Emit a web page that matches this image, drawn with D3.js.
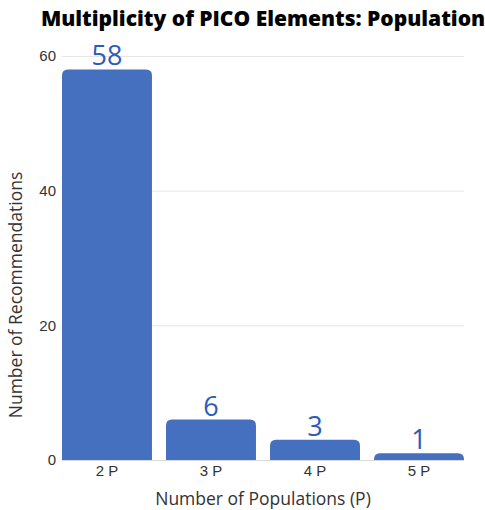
<!DOCTYPE html>
<html>
<head>
<meta charset="utf-8">
<script src="https://cdn.jsdelivr.net/npm/d3@7"></script>
<style>
  html, body { margin: 0; padding: 0; background: #fff; }
  svg { display: block; }
</style>
</head>
<body>
<svg id="chart" width="485" height="510"></svg>
<script>
// Number of recommendations per population count
const categories = ["2 P", "3 P", "4 P", "5 P"];
const counts = [58, 6, 3, 1];
const yTicks = [0, 20, 40, 60];

const svg = d3.select("#chart");
const W = 485, H = 510;
const margin = { top: 56, right: 21, bottom: 50, left: 62 };

const x = d3.scaleBand()
  .domain(categories)
  .range([margin.left, W - margin.right])
  .paddingInner(0.135)
  .paddingOuter(0);

const y = d3.scaleLinear()
  .domain([0, 60])
  .range([H - margin.bottom, margin.top]);

const font = "'Open Sans', sans-serif";
const tickFont = "'Liberation Sans', Arial, sans-serif";

// Horizontal gridlines
svg.append("g")
  .selectAll("line")
  .data(yTicks.filter(d => d > 0))
  .join("line")
  .attr("x1", margin.left)
  .attr("x2", W - margin.right)
  .attr("y1", d => y(d) + 0.5)
  .attr("y2", d => y(d) + 0.5)
  .attr("stroke", "#e6e6e6")
  .attr("stroke-width", 1);

// Bars with rounded top corners
const r = 6;
function barPath(d, i) {
  const x0 = x(categories[i]), x1 = x0 + x.bandwidth();
  const yb = y(0), yt = y(d);
  const rr = Math.min(r, (yb - yt));
  return `M${x0},${yb}V${yt + rr}Q${x0},${yt} ${x0 + rr},${yt}H${x1 - rr}Q${x1},${yt} ${x1},${yt + rr}V${yb}Z`;
}
svg.append("g")
  .selectAll("path")
  .data(counts)
  .join("path")
  .attr("d", (d, i) => barPath(d, i))
  .attr("fill", "#4470bf");

// Baseline
svg.append("line")
  .attr("x1", margin.left)
  .attr("x2", W - margin.right)
  .attr("y1", y(0) + 0.5)
  .attr("y2", y(0) + 0.5)
  .attr("stroke", "#d9d9d9");

// Y axis
const yAxis = d3.axisLeft(y).tickValues(yTicks).tickSize(0).tickPadding(6);
const gy = svg.append("g")
  .attr("transform", `translate(${margin.left},0)`)
  .call(yAxis);
gy.select(".domain").remove();
gy.attr("font-family", tickFont).attr("font-size", 15);
gy.selectAll("text").attr("fill", "#333");

// X axis
const xAxis = d3.axisBottom(x).tickSize(0).tickPadding(5);
const gx = svg.append("g")
  .attr("transform", `translate(0,${y(0)})`)
  .call(xAxis);
gx.select(".domain").remove();
gx.attr("font-family", tickFont).attr("font-size", 15);
gx.selectAll("text").attr("fill", "#333");

// Value labels
svg.append("g")
  .selectAll("text")
  .data(counts)
  .join("text")
  .attr("x", (d, i) => x(categories[i]) + x.bandwidth() / 2)
  .attr("y", d => y(d) - 4)
  .attr("text-anchor", "middle")
  .attr("font-family", font)
  .attr("font-size", 27)
  .attr("fill", "#2d5cb8")
  .text(d => d);

// Title
svg.append("text")
  .attr("x", 263)
  .attr("y", 26)
  .attr("text-anchor", "middle")
  .attr("font-family", font)
  .attr("font-weight", 800)
  .attr("font-size", 21)
  .attr("fill", "#000")
  .text("Multiplicity of PICO Elements: Population");

// Axis titles
svg.append("text")
  .attr("x", 263)
  .attr("y", 505)
  .attr("text-anchor", "middle")
  .attr("font-family", font)
  .attr("font-size", 17.5)
  .attr("fill", "#333")
  .text("Number of Populations (P)");

svg.append("text")
  .attr("transform", "translate(22,295) rotate(-90)")
  .attr("text-anchor", "middle")
  .attr("font-family", font)
  .attr("font-size", 17.5)
  .attr("fill", "#333")
  .text("Number of Recommendations");
</script>
</body>
</html>
